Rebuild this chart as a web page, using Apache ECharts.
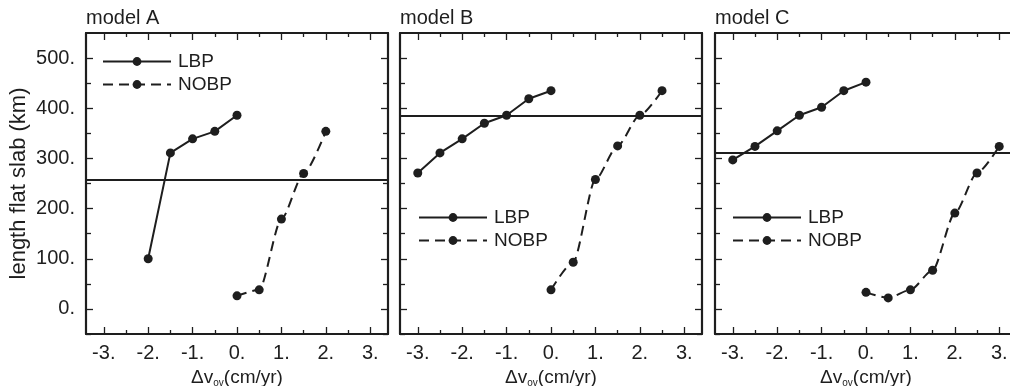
<!DOCTYPE html>
<html>
<head>
<meta charset="utf-8">
<script src="https://cdn.jsdelivr.net/npm/echarts@6/dist/echarts.min.js"></script>
<style>
html,body{margin:0;padding:0;background:#fff;}
#chart{width:1010px;height:386px;}
</style>
</head>
<body>
<div id="chart"></div>
<script>
// ---- data ----
const panelTitles = ['model A', 'model B', 'model C'];
const seriesNames = ['LBP', 'NOBP'];
const xTickMajor = [-3, -2, -1, 0, 1, 2, 3];
const xTickMinor = [-2.5, -1.5, -0.5, 0.5, 1.5, 2.5];
const yTickMajor = [0, 100, 200, 300, 400, 500];
const yTickMinor = [-50, 50, 150, 250, 350, 450];

const lbpA_x = [-2, -1.5, -1, -0.5, 0];
const lbpA_y = [100, 311, 339, 354, 386];
const nobpA_x = [0, 0.5, 1, 1.5, 2];
const nobpA_y = [26, 38, 179, 270, 354];

const lbpB_x = [-3, -2.5, -2, -1.5, -1, -0.5, 0];
const lbpB_y = [271, 311, 339, 370, 386, 419, 435];
const nobpB_x = [0, 0.5, 1, 1.5, 2, 2.5];
const nobpB_y = [38, 93, 258, 325, 386, 435];

const lbpC_x = [-3, -2.5, -2, -1.5, -1, -0.5, 0];
const lbpC_y = [297, 324, 355, 386, 402, 435, 452];
const nobpC_x = [0, 0.5, 1, 1.5, 2, 2.5, 3];
const nobpC_y = [33, 22, 38, 77, 191, 271, 324];

const refLines = [257, 386, 311];

// ---- layout / style ----
const FONT = "'Liberation Sans', Arial, sans-serif";
const INK = '#1e1e1e';
const gridLefts = [86, 400, 715];
const GRID_TOP = 33, GRID_W = 302, GRID_H = 301;
const XMIN = -3.4, XMAX = 3.4, YMIN = -50, YMAX = 550;

function pair(xs, ys) { return xs.map((x, i) => [x, ys[i]]); }
const panels = [
  { lbp: pair(lbpA_x, lbpA_y), nobp: pair(nobpA_x, nobpA_y) },
  { lbp: pair(lbpB_x, lbpB_y), nobp: pair(nobpB_x, nobpB_y) },
  { lbp: pair(lbpC_x, lbpC_y), nobp: pair(nobpC_x, nobpC_y) }
];

const grids = [], xAxes = [], yAxes = [], series = [], titles = [];

function xAxisDef(g, pos, major, labels) {
  const a = {
    type: 'value', gridIndex: g, position: pos, min: XMIN, max: XMAX,
    splitLine: { show: false },
    axisLine: { show: major, onZero: false, lineStyle: { color: INK, width: 2.2 } },
    axisTick: { show: true, inside: true, length: major ? 7 : 4,
      customValues: major ? xTickMajor : xTickMinor,
      lineStyle: { color: INK, width: 1.3 } },
    axisLabel: { show: labels, customValues: xTickMajor, margin: 9,
      formatter: v => v + '.', color: INK, fontFamily: FONT, fontSize: 20 }
  };
  if (labels) {
    a.name = '{a|Δv}{s|ov}{a|(cm/yr)}';
    a.nameLocation = 'middle';
    a.nameGap = 30;
    a.nameTextStyle = {
      rich: {
        a: { fontFamily: FONT, fontSize: 19, color: INK, lineHeight: 22 },
        s: { fontFamily: FONT, fontSize: 10, color: INK, lineHeight: 22, verticalAlign: 'bottom', padding: [7, 0, 0, 0] }
      }
    };
  }
  return a;
}
function yAxisDef(g, pos, major, labels, withName) {
  const a = {
    type: 'value', gridIndex: g, position: pos, min: YMIN, max: YMAX,
    splitLine: { show: false },
    axisLine: { show: major, onZero: false, lineStyle: { color: INK, width: 2.2 } },
    axisTick: { show: true, inside: true, length: major ? 7 : 5,
      customValues: major ? yTickMajor : yTickMinor,
      lineStyle: { color: INK, width: 1.3 } },
    axisLabel: { show: labels, customValues: yTickMajor, margin: 11,
      formatter: v => v + '.', color: INK, fontFamily: FONT, fontSize: 20 }
  };
  if (withName) {
    a.name = 'length flat slab (km)';
    a.nameLocation = 'middle';
    a.nameGap = 56;
    a.nameTextStyle = { fontFamily: FONT, fontSize: 22, color: INK };
  }
  return a;
}

const legends = [];
const legendPos = [
  { left: 102, top: 52 },
  { left: 418, top: 208 },
  { left: 732, top: 208 }
];

panels.forEach((p, g) => {
  grids.push({ left: gridLefts[g], top: GRID_TOP, width: GRID_W, height: GRID_H,
    containLabel: false, outerBoundsMode: 'none' });
  // order: major bottom, major top, minor bottom, minor top
  xAxes.push(xAxisDef(g, 'bottom', true, true));
  xAxes.push(xAxisDef(g, 'top', true, false));
  xAxes.push(xAxisDef(g, 'bottom', false, false));
  xAxes.push(xAxisDef(g, 'top', false, false));
  yAxes.push(yAxisDef(g, 'left', true, g === 0, g === 0));
  yAxes.push(yAxisDef(g, 'right', true, false, false));
  yAxes.push(yAxisDef(g, 'left', false, false, false));
  yAxes.push(yAxisDef(g, 'right', false, false, false));

  titles.push({
    text: panelTitles[g], left: gridLefts[g], top: 8, padding: 0,
    textStyle: { fontFamily: FONT, fontSize: 20, fontWeight: 'normal', color: INK }
  });

  series.push({
    name: seriesNames[0], type: 'line', xAxisIndex: 4 * g, yAxisIndex: 4 * g,
    data: p.lbp, symbol: 'circle', symbolSize: 9, showSymbol: true,
    lineStyle: { color: INK, width: 2, type: 'solid' },
    itemStyle: { color: INK },
    animation: false,
    markLine: {
      silent: true, symbol: 'none', animation: false,
      label: { show: false },
      lineStyle: { color: INK, width: 2.2, type: 'solid' },
      data: [{ yAxis: refLines[g] }]
    }
  });
  series.push({
    name: seriesNames[1], type: 'line', xAxisIndex: 4 * g, yAxisIndex: 4 * g,
    data: p.nobp, symbol: 'circle', symbolSize: 9, showSymbol: true,
    smooth: 0.25, smoothMonotone: 'x',
    lineStyle: { color: INK, width: 2, type: [10, 6] },
    itemStyle: { color: INK },
    animation: false
  });

  legends.push({
    left: legendPos[g].left, top: legendPos[g].top, orient: 'vertical',
    itemWidth: 68, itemHeight: 11, itemGap: 4, padding: 0,
    data: seriesNames, selectedMode: false,
    textStyle: { fontFamily: FONT, fontSize: 19, color: INK, padding: [0, 0, 0, 2] }
  });
});

const chart = echarts.init(document.getElementById('chart'), null, { renderer: 'canvas' });
chart.setOption({
  animation: false,
  backgroundColor: '#ffffff',
  title: titles,
  legend: legends,
  grid: grids,
  xAxis: xAxes,
  yAxis: yAxes,
  series: series
});
</script>
</body>
</html>
